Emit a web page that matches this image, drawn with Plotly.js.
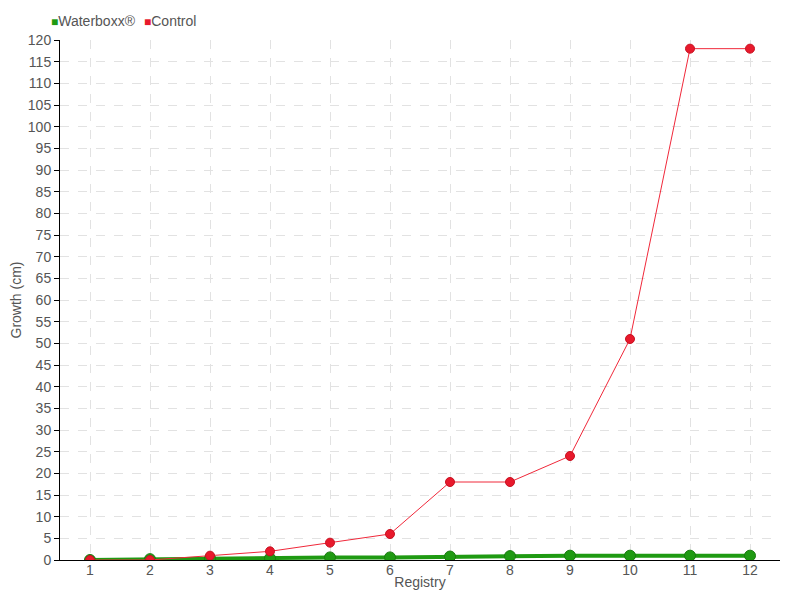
<!DOCTYPE html>
<html><head><meta charset="utf-8">
<script src="https://cdn.plot.ly/plotly-3.0.1.min.js"></script>
<style>body{margin:0;background:#fff}#c{width:800px;height:600px}</style>
</head><body><div id="c"></div>
<script>
const registry = ['1','2','3','4','5','6','7','8','9','10','11','12'];
const waterboxx = [0, 0.2, 0.4, 0.4, 0.6, 0.6, 0.8, 0.9, 1.0, 1.0, 1.0, 1.0];
const control = [0, 0, 1, 2, 4, 6, 18, 18, 24, 51, 118, 118];
const seriesNames = ['Waterboxx®', 'Control'];
const seriesColors = ['#1f9a12', '#e8192c'];
const yTicks = [];
for (let v = 0; v <= 120; v += 5) yTicks.push(v);

const FONT = '"Liberation Sans", Arial, sans-serif';
const traces = [
  {x: registry, y: waterboxx, type: 'scatter', mode: 'lines+markers', name: seriesNames[0],
   line: {color: seriesColors[0], width: 4}, marker: {color: seriesColors[0], size: 11, line: {color: '#187a0e', width: 1}}},
  {x: registry, y: control, type: 'scatter', mode: 'lines+markers', name: seriesNames[1],
   line: {color: '#f0283a', width: 1}, marker: {color: seriesColors[1], size: 9, line: {color: '#c81020', width: 1}}}
];
const legendAnn = [
  {text: '<span style="color:' + seriesColors[0] + ';font-size:12px">■</span>' + seriesNames[0], x: -0.0155},
  {text: '<span style="color:' + seriesColors[1] + ';font-size:12px">■</span>' + seriesNames[1], x: 0.1135}
].map(a => ({text: a.text, x: a.x, xref: 'paper', y: 1.0365, yref: 'paper', xanchor: 'left', yanchor: 'middle',
             showarrow: false, font: {size: 14, color: '#555', family: FONT}}));

const layout = {
  width: 800, height: 600,
  margin: {l: 60, r: 20, t: 40, b: 40},
  paper_bgcolor: '#fff', plot_bgcolor: '#fff',
  font: {family: FONT, size: 14, color: '#555'},
  showlegend: false,
  annotations: legendAnn,
  xaxis: {type: 'category', range: [-0.5, 11.5], showgrid: true, gridcolor: '#e2e2e2', griddash: 'dash',
          showline: true, linecolor: '#000', linewidth: 1, ticks: '', zeroline: false, automargin: false,
          tickfont: {size: 14, color: '#555'}, ticklabelstandoff: -3,
          title: {text: 'Registry', font: {size: 14, color: '#555'}, standoff: 0}},
  yaxis: {range: [0, 120], tickvals: yTicks, showgrid: true, gridcolor: '#e2e2e2', griddash: 'dash',
          showline: true, linecolor: '#000', linewidth: 1, ticks: 'outside', ticklen: 5, tickcolor: '#000',
          zeroline: false, automargin: false, tickfont: {size: 14, color: '#555'},
          title: {text: 'Growth (cm)', font: {size: 14, color: '#555'}, standoff: 2}}
};
Plotly.newPlot('c', traces, layout, {displayModeBar: false});
</script></body></html>
